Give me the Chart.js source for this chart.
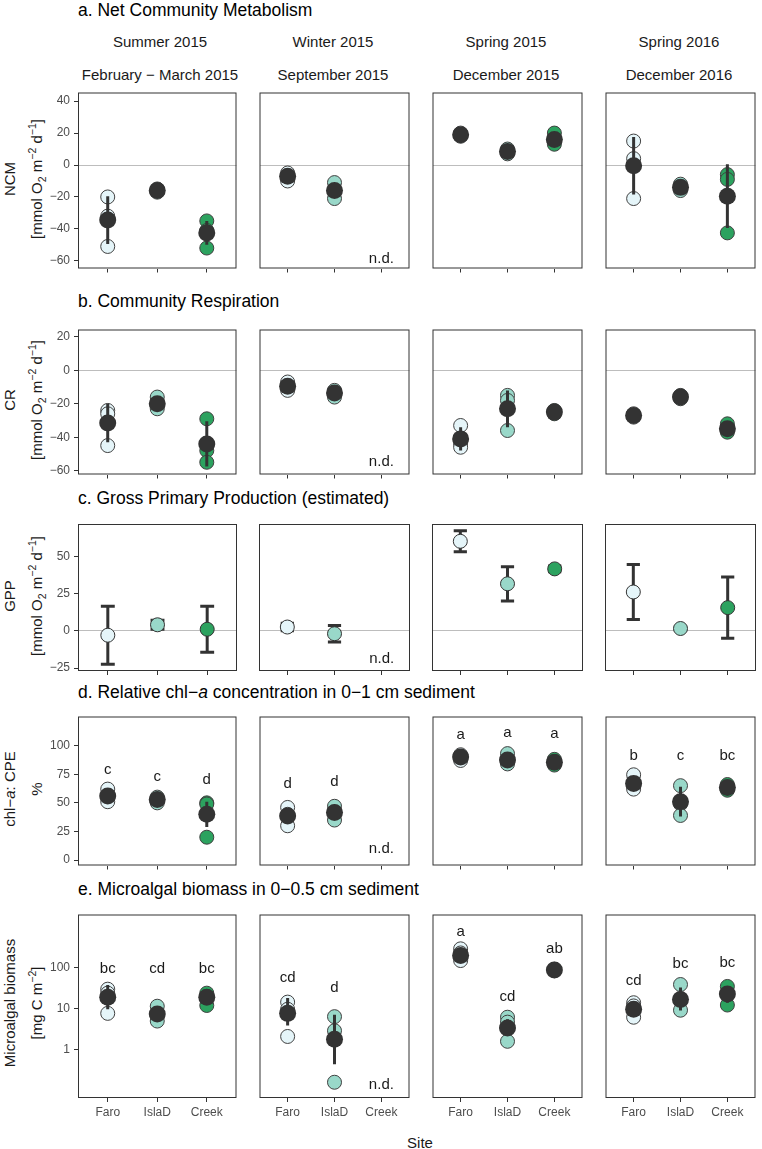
<!DOCTYPE html>
<html>
<head>
<meta charset="utf-8">
<script src="https://cdn.jsdelivr.net/npm/chart.js@4.4.1/dist/chart.umd.min.js"></script>
<style>
body { margin: 0; background: #fff; font-family: "Liberation Sans", Arial, sans-serif; color: #1a1a1a; }
#fig { position: relative; width: 762px; height: 1149px; overflow: hidden; background: #fff; }
.sec { position: absolute; white-space: nowrap; font-size: 17.5px; line-height: 20px; color: #000; }
.hd { position: absolute; white-space: nowrap; font-size: 15px; line-height: 18px; transform: translateX(-50%); }
.yt { position: absolute; white-space: nowrap; font-size: 15px; line-height: 18px; transform: translate(-50%, -50%) rotate(-90deg); }
sub, sup { font-size: 70%; line-height: 0; }
canvas { position: absolute; }
</style>
</head>
<body>
<div id="fig">
  <div class="sec" style="left:78px;top:0px">a. Net Community Metabolism</div>
  <div class="sec" style="left:78px;top:291px">b. Community Respiration</div>
  <div class="sec" style="left:78px;top:488px">c. Gross Primary Production (estimated)</div>
  <div class="sec" style="left:78px;top:682px">d. Relative chl−<i>a</i> concentration in 0−1 cm sediment</div>
  <div class="sec" style="left:78px;top:879px">e. Microalgal biomass in 0−0.5 cm sediment</div>

  <div class="yt" style="left:10px;top:179px">NCM</div>
  <div class="yt" style="left:37px;top:179px">[mmol O<sub>2</sub> m<sup>−2</sup> d<sup>−1</sup>]</div>
  <div class="yt" style="left:10px;top:400px">CR</div>
  <div class="yt" style="left:37px;top:400px">[mmol O<sub>2</sub> m<sup>−2</sup> d<sup>−1</sup>]</div>
  <div class="yt" style="left:10px;top:596px">GPP</div>
  <div class="yt" style="left:37px;top:596px">[mmol O<sub>2</sub> m<sup>−2</sup> d<sup>−1</sup>]</div>
  <div class="yt" style="left:10px;top:789px">chl−<i>a</i>: CPE</div>
  <div class="yt" style="left:37px;top:789px">%</div>
  <div class="yt" style="left:10px;top:1003px">Microalgal biomass</div>
  <div class="yt" style="left:37px;top:1003px">[mg C m<sup>−2</sup>]</div>

  <div class="hd" style="left:420px;top:1134px">Site</div>
</div>
<script>
const sites = ['Faro', 'IslaD', 'Creek'];
const siteFill = ['#E5F5F9', '#99D8C9', '#2CA25F'];
const seasons = ['Summer 2015', 'Winter 2015', 'Spring 2015', 'Spring 2016'];
const sampled = ['February \u2212 March 2015', 'September 2015', 'December 2015', 'December 2016'];

// a. net community metabolism, [season][site]
const ncmTicks = [-60, -40, -20, 0, 20, 40];
const ncmReps = [
    [[-20, -32, -51], [-15, -16, -17], [-35, -41, -52]],
    [[-5, -7, -10], [-11, -16, -21], null],
    [[18, 19, 20], [7, 8.5, 10], [13, 16, 20]],
    [[15, 4, -21], [-12, -14, -16], [-6, -9, -42.5]]
];
const ncmMean = [[-34.5, -16, -42.5], [-7, -16, null], [19, 8.5, 16], [-0.5, -14, -19.5]];
const ncmSd = [[15, 1, 7.5], [2.5, 3, null], [1, 1.5, 3.5], [18, 2.5, 20]];

// b. community respiration
const crTicks = [-60, -40, -20, 0, 20];
const crReps = [
    [[-24, -26, -45], [-16, -21, -23], [-29, -48, -55]],
    [[-7, -10, -12], [-12, -14, -16], null],
    [[-33, -44, -46], [-15, -18, -36], [-24, -25, -26]],
    [[-26, -27, -28], [-15, -16, -17], [-32, -35, -37]]
];
const crMean = [[-31.5, -20, -44], [-9.5, -13.5, null], [-41, -23, -25], [-27, -16, -35]];
const crSd = [[11.5, 3.5, 13.5], [2.5, 2, null], [7, 11, 1], [1, 1, 2.5]];

// c. gross primary production (estimated)
const gppTicks = [-25, 0, 25, 50];
const gppMean = [[-3, 4, 1], [2.5, -2, null], [60, 31.5, 41.5], [26, 1.5, 15.5]];
const gppSd = [[19.5, 3, 15.5], [2.5, 5.5, null], [7, 11.5, 2], [18.5, 1, 20.5]];

// d. chl-a : CPE (%)
const chlTicks = [0, 25, 50, 75, 100];
const chlReps = [
    [[62, 55, 51], [55, 53, 50], [50, 49, 20]],
    [[46, 40, 30], [47, 42, 35], null],
    [[92, 90, 87], [93, 86, 84], [88, 85, 83]],
    [[74.5, 65, 62], [65, 49, 39], [66, 63, 61]]
];
const chlMean = [[56, 53, 40], [38.5, 41.5, null], [90, 87.5, 85.5], [67, 51, 63.5]];
const chlSd = [[4.5, 2, 11], [4, 4, null], [1.5, 2.5, 1.5], [4, 13, 2]];
const chlLetters = [['c', 'c', 'd'], ['d', 'd', null], ['a', 'a', 'a'], ['b', 'c', 'bc']];
const chlLetterAt = [[79, 73, 70], [67, 68, null], [109.5, 111, 110], [91, 91, 91]];

// e. microalgal biomass (mg C m-2, log axis)
const bioTicks = [1, 10, 100];
const bioReps = [
    [[30, 24, 7.7], [11.5, 6.5, 5], [24, 20, 12]],
    [[14.5, 9.7, 2.1], [6.4, 2.9, 0.16], null],
    [[290, 230, 150], [6.2, 4.7, 1.6], [92, 88, 85]],
    [[14, 11.7, 6.2], [39, 16, 9.2], [35, 22, 12.3]]
];
const bioMean = [[19, 7.4, 19], [7.7, 1.8, null], [200, 3.4, 88], [9.7, 16.7, 22.8]];
const bioLow = [[9.7, 5.5, 13], [3.9, 0.44, null], [160, 2.2, 84], [7.5, 9, 14]];
const bioHigh = [[38, 10, 26], [18.3, 7.1, null], [260, 5.5, 93], [12.5, 33, 33]];
const bioLetters = [['bc', 'cd', 'bc'], ['cd', 'd', null], ['a', 'cd', 'ab'], ['cd', 'bc', 'bc']];
const bioLetterAt = [[94, 94, 94], [57, 32, null], [760, 20, 290], [47, 124, 135]];

const rows = [
    { reps: ncmReps, mean: ncmMean, sd: ncmSd, ticks: ncmTicks, min: -64.8, max: 45.4, zero: true, nd: -59, top: 87, h: 184 },
    { reps: crReps, mean: crMean, sd: crSd, ticks: crTicks, min: -62.3, max: 24.4, zero: true, nd: -55, top: 324, h: 153 },
    { mean: gppMean, sd: gppSd, ticks: gppTicks, min: -27, max: 71.6, zero: true, caps: true, nd: -19, top: 519, h: 154 },
    { reps: chlReps, mean: chlMean, sd: chlSd, ticks: chlTicks, min: -4.7, max: 125.4, letters: chlLetters, letterAt: chlLetterAt, nd: 9.5, top: 711, h: 157 },
    { reps: bioReps, mean: bioMean, low: bioLow, high: bioHigh, ticks: bioTicks, log: true, min: 0.066, max: 2000, letters: bioLetters, letterAt: bioLetterAt, nd: 0.135, top: 909, h: 189 }
];

const colLeft = [78, 251, 424, 597];
const panelW = 164;
const capHalf = 0.14;
const fig = document.getElementById('fig');

Chart.defaults.font.family = '"Liberation Sans", Arial, sans-serif';
Chart.defaults.font.size = 12;
Chart.defaults.color = '#4D4D4D';

// column headers
seasons.forEach((s, c) => {
    const cx = colLeft[c] + panelW / 2;
    [[s, 33], [sampled[c], 66]].forEach(([txt, top]) => {
        const d = document.createElement('div');
        d.className = 'hd';
        d.style.left = cx + 'px';
        d.style.top = top + 'px';
        d.textContent = txt;
        fig.appendChild(d);
    });
});

function fmtTick(v) {
    return v < 0 ? '\u2212' + Math.abs(v) : String(v);
}

function panelData(row, c) {
    const reps = [], repFill = [], means = [], meanFill = [], bars = [];
    sites.forEach((site, i) => {
        const m = row.mean[c][i];
        if (m == null) return;
        const x = i + 1;
        if (row.reps) {
            row.reps[c][i].forEach(v => { reps.push({ x, y: v }); repFill.push(siteFill[i]); });
        }
        means.push({ x, y: m });
        meanFill.push(siteFill[i]);
        const lo = row.sd ? m - row.sd[c][i] : row.low[c][i];
        const hi = row.sd ? m + row.sd[c][i] : row.high[c][i];
        bars.push({ x, y: lo }, { x, y: hi }, { x, y: null });
        if (row.caps) {
            bars.push({ x: x - capHalf, y: hi }, { x: x + capHalf, y: hi }, { x, y: null });
            bars.push({ x: x - capHalf, y: lo }, { x: x + capHalf, y: lo }, { x, y: null });
        }
    });

    const sets = [];
    if (row.reps) {
        sets.push({ data: reps, order: 3, pointRadius: 7, pointBackgroundColor: repFill,
                    pointBorderColor: '#404040', pointBorderWidth: 1 });
    }
    sets.push({ data: bars, order: 2, showLine: true, pointRadius: 0, borderColor: '#333333',
                borderWidth: 3, fill: false, spanGaps: false });
    if (row.reps) {
        sets.push({ data: means, order: 1, pointRadius: 8.5, pointBackgroundColor: '#333333',
                    pointBorderWidth: 0 });
    } else {
        sets.push({ data: means, order: 1, pointRadius: 7, pointBackgroundColor: meanFill,
                    pointBorderColor: '#333333', pointBorderWidth: 1 });
    }
    return sets;
}

function panelPlugin(row, c) {
    return {
        id: 'panel',
        afterDatasetsDraw(chart) {
            const { ctx, chartArea: a, scales } = chart;
            ctx.save();
            ctx.fillStyle = '#1a1a1a';
            ctx.font = '15px "Liberation Sans", Arial, sans-serif';
            ctx.textAlign = 'center';
            ctx.textBaseline = 'middle';
            if (row.letters) {
                row.letters[c].forEach((t, i) => {
                    if (!t) return;
                    ctx.fillText(t, scales.x.getPixelForValue(i + 1), scales.y.getPixelForValue(row.letterAt[c][i]));
                });
            }
            if (row.mean[c].some(v => v == null)) {
                ctx.fillText('n.d.', scales.x.getPixelForValue(3), scales.y.getPixelForValue(row.nd));
            }
            ctx.strokeStyle = '#333333';
            ctx.lineWidth = 1;
            ctx.strokeRect(a.left + 0.5, a.top + 0.5, a.right - a.left - 1, a.bottom - a.top - 1);
            ctx.restore();
        }
    };
}

rows.forEach((row, r) => {
    seasons.forEach((season, c) => {
        const yw = c === 0 ? 40 : 0;
        const pt = 3, pr = 3;
        const xh = r === rows.length - 1 ? 24 : 6;
        const cv = document.createElement('canvas');
        cv.width = yw + panelW + pr;
        cv.height = pt + row.h + xh;
        cv.style.left = (colLeft[c] - yw) + 'px';
        cv.style.top = (row.top - pt) + 'px';
        fig.appendChild(cv);

        new Chart(cv, {
            type: 'scatter',
            data: { datasets: panelData(row, c) },
            options: {
                responsive: false,
                animation: false,
                events: [],
                layout: { padding: { left: 0, top: pt, right: pr, bottom: 0 } },
                plugins: { legend: { display: false }, tooltip: { enabled: false } },
                scales: {
                    x: {
                        type: 'linear', min: 0.4, max: 3.6, bounds: 'data',
                        afterBuildTicks: s => { s.ticks = [1, 2, 3].map(value => ({ value })); },
                        afterFit: s => { s.height = xh; s.paddingLeft = 0; s.paddingRight = 0; },
                        grid: { color: 'rgba(0,0,0,0)', drawTicks: true, tickLength: 4, tickColor: '#333333', tickWidth: 1 },
                        border: { display: false },
                        ticks: { display: r === rows.length - 1, callback: v => sites[v - 1], color: '#4D4D4D',
                                 padding: 3, maxRotation: 0, autoSkip: false }
                    },
                    y: {
                        type: row.log ? 'logarithmic' : 'linear', min: row.min, max: row.max, bounds: 'data',
                        afterBuildTicks: s => { s.ticks = row.ticks.map(value => ({ value })); },
                        afterFit: s => { s.width = yw; s.paddingTop = 0; s.paddingBottom = 0; },
                        grid: {
                            color: ctx => (row.zero && ctx.tick && ctx.tick.value === 0) ? '#BDBDBD' : 'rgba(0,0,0,0)',
                            lineWidth: 1,
                            drawTicks: c === 0, tickLength: 4, tickColor: '#333333', tickWidth: 1
                        },
                        border: { display: false },
                        ticks: { display: c === 0, callback: v => fmtTick(v), color: '#4D4D4D', padding: 4, autoSkip: false }
                    }
                }
            },
            plugins: [panelPlugin(row, c)]
        });
    });
});
</script>
</body>
</html>
